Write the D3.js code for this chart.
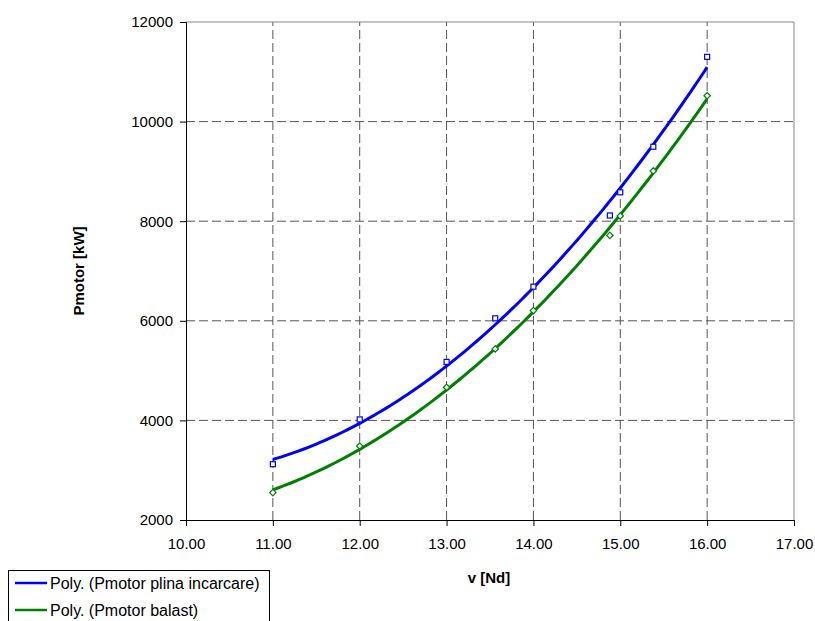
<!DOCTYPE html>
<html>
<head>
<meta charset="utf-8">
<script src="https://cdn.jsdelivr.net/npm/d3@7"></script>
<style>
  body { margin: 0; background: #fff; }
  text { font-family: Arial, "Liberation Sans", sans-serif; }
</style>
</head>
<body>
<div id="container"></div>
<script>
// Data
const speeds = [11, 12, 13, 13.56, 14, 14.88, 15, 15.38, 16];
const pFull = [3120, 4020, 5175, 6050, 6685, 8115, 8580, 9495, 11300];
const pBallast = [2550, 3485, 4665, 5435, 6205, 7715, 8105, 9010, 10520];
const xTicks = [10, 11, 12, 13, 14, 15, 16, 17];
const yTicks = [2000, 4000, 6000, 8000, 10000, 12000];
const seriesNames = ["Poly. (Pmotor plina incarcare)", "Poly. (Pmotor balast)"];

const width = 815, height = 621;
const margin = { left: 186, right: 21, top: 22, bottom: 101 };

const svg = d3.select("div#container")
  .append("svg")
  .attr("width", width)
  .attr("height", height);

// Scales
const x = d3.scaleLinear().domain([10, 17]).range([margin.left, width - margin.right]);
const y = d3.scaleLinear().domain([2000, 12000]).range([height - margin.bottom, margin.top]);

// least squares quadratic, like the excel "Poly." trendline
const polyFit = (xs, ys) => {
  const s = [0, 0, 0, 0, 0], t = [0, 0, 0];
  xs.forEach((xi, i) => {
    for (let k = 0; k <= 4; k++) s[k] += Math.pow(xi, k);
    for (let k = 0; k <= 2; k++) t[k] += Math.pow(xi, k) * ys[i];
  });
  const m = [[s[0], s[1], s[2], t[0]], [s[1], s[2], s[3], t[1]], [s[2], s[3], s[4], t[2]]];
  for (let i = 0; i < 3; i++) {
    for (let j = i + 1; j < 3; j++) {
      const f = m[j][i] / m[i][i];
      for (let k = i; k < 4; k++) m[j][k] -= f * m[i][k];
    }
  }
  const c = [0, 0, 0];
  for (let i = 2; i >= 0; i--) {
    let v = m[i][3];
    for (let k = i + 1; k < 3; k++) v -= m[i][k] * c[k];
    c[i] = v / m[i][i];
  }
  return (v) => c[0] + c[1] * v + c[2] * v * v;
};

// Grid
const grid = svg.append("g");
grid.selectAll("line.h")
  .data(yTicks.slice(1, -1))
  .enter()
  .append("line")
  .attr("x1", x(10)).attr("x2", x(17))
  .attr("y1", (d) => y(d)).attr("y2", (d) => y(d))
  .attr("stroke", "#555").attr("stroke-dasharray", "9,4");
grid.selectAll("line.v")
  .data(xTicks.slice(1, -1))
  .enter()
  .append("line")
  .attr("x1", (d) => x(d)).attr("x2", (d) => x(d))
  .attr("y1", y(2000)).attr("y2", y(12000))
  .attr("stroke", "#555").attr("stroke-dasharray", "9,4");

// top / right frame
svg.append("path")
  .attr("d", `M${x(10)},${y(12000)}H${x(17)}V${y(2000)}`)
  .attr("fill", "none").attr("stroke", "#888");

// Axes
const xAxis = svg.append("g")
  .attr("transform", `translate(0,${y(2000)})`)
  .call(d3.axisBottom(x).tickValues(xTicks).tickFormat(d3.format(".2f")).tickSizeOuter(0).tickSize(6).tickPadding(9));
const yAxis = svg.append("g")
  .attr("transform", `translate(${x(10)},0)`)
  .call(d3.axisLeft(y).tickValues(yTicks).tickFormat(d3.format("d")).tickSizeOuter(0).tickSize(6).tickPadding(7));
[xAxis, yAxis].forEach((a) => {
  a.selectAll("text").style("font-size", "15px").attr("fill", "#000");
  a.selectAll("line, path").attr("stroke", "#000");
});
xAxis.selectAll("text").attr("dy", "0.9em");

// Axis titles
svg.append("text")
  .attr("x", 489).attr("y", 583)
  .attr("text-anchor", "middle")
  .style("font-size", "15px").style("font-weight", "bold")
  .text("v [Nd]");
svg.append("text")
  .attr("transform", `translate(84,${(y(2000) + y(12000)) / 2}) rotate(-90)`)
  .attr("text-anchor", "middle")
  .style("font-size", "15px").style("font-weight", "bold")
  .text("Pmotor [kW]");

// Trend lines
const series = [
  { vals: pFull, color: "#0000ff", name: seriesNames[0] },
  { vals: pBallast, color: "#008000", name: seriesNames[1] }
];
const line = d3.line().x((d) => x(d[0])).y((d) => y(d[1]));
series.forEach((s) => {
  const f = polyFit(speeds, s.vals);
  const xs = d3.range(speeds[0], speeds[speeds.length - 1] + 0.001, 0.05);
  svg.append("path")
    .datum(xs.map((v) => [v, f(v)]))
    .attr("d", line)
    .attr("fill", "none")
    .attr("stroke", s.color)
    .attr("stroke-width", 3);
});

// Markers
svg.append("g").selectAll("rect")
  .data(speeds.map((v, i) => [v, pFull[i]]))
  .enter()
  .append("rect")
  .attr("x", (d) => x(d[0]) - 2.5).attr("y", (d) => y(d[1]) - 2.5)
  .attr("width", 5).attr("height", 5)
  .attr("fill", "#fff").attr("stroke", "#0000ff").attr("stroke-width", 1.2);
svg.append("g").selectAll("path")
  .data(speeds.map((v, i) => [v, pBallast[i]]))
  .enter()
  .append("path")
  .attr("d", (d) => `M${x(d[0])},${y(d[1]) - 3.2}l3.2,3.2l-3.2,3.2l-3.2,-3.2z`)
  .attr("fill", "#fff").attr("stroke", "#008000").attr("stroke-width", 1.2);

// Legend
const legend = svg.append("g");
legend.append("rect")
  .attr("x", 8.5).attr("y", 570.5).attr("width", 261).attr("height", 60)
  .attr("fill", "#fff").attr("stroke", "#000");
series.forEach((s, i) => {
  const ly = 583 + i * 27;
  legend.append("line")
    .attr("x1", 15).attr("x2", 47).attr("y1", ly).attr("y2", ly)
    .attr("stroke", s.color).attr("stroke-width", 2.5);
  legend.append("text")
    .attr("x", 50).attr("y", ly + 5.5)
    .style("font-size", "16px")
    .text(s.name);
});
</script>
</body>
</html>
